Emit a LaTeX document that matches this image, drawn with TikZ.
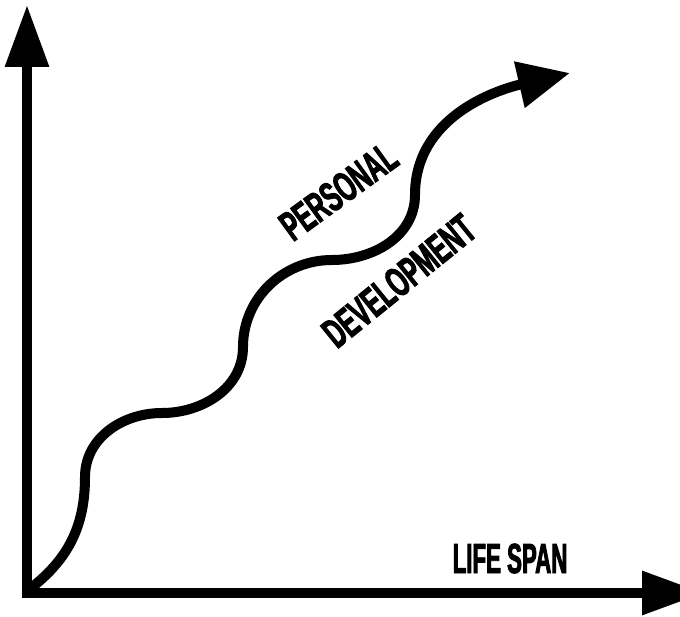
\documentclass[tikz,border=0pt]{standalone}
\usepackage{fontspec}
\newfontfamily\labelfont[FakeStretch=0.57,FakeBold=2.2]{Liberation Sans}
\usepackage{tikz}
\usetikzlibrary{arrows.meta}

\begin{document}
\begin{tikzpicture}[x=1pt, y=1pt,
        axis/.style={line width=9.5pt, -{Triangle[length=62pt, width=42pt]}},
        growth/.style={line width=10pt, -{Triangle[length=52pt, width=45pt]}},
        tag/.style={font=\labelfont\bfseries\fontsize{42}{46}\selectfont, anchor=base, inner sep=0pt}]
                \useasboundingbox (0,0) rectangle (680,616);
                \clip (0,0) rectangle (680,616);
                \coordinate (O) at (27,23);
                \coordinate (Y) at (27,611);
                \coordinate (X) at (704,23);
                \coordinate (S) at (31,28);
                \coordinate (A) at (85,139);
                \coordinate (B) at (162,203);
                \coordinate (C) at (243,269);
                \coordinate (D) at (332,356);
                \coordinate (E) at (415,421);
                \coordinate (T) at (570,543);
                \draw[axis] ([yshift=-4.75pt]O) -- (Y);
                \draw[axis] ([xshift=-4.75pt]O) -- (X);
                \draw[growth] (S) to[out=38, in=270] (A) to[out=90, in=180] (B)
                    to[out=0, in=270] (C) to[out=90, in=180] (D)
                    to[out=0, in=270] (E) to[out=90, in=193] (T);
                \node[tag, rotate=36] (personal) at (347,413) {PERSONAL};
                \node[tag, rotate=39] (development) at (408,324) {DEVELOPMENT};
                \node[tag, xscale=0.93] (lifespan) at (510,43) {LIFE SPAN};
            \end{tikzpicture}
\end{document}
